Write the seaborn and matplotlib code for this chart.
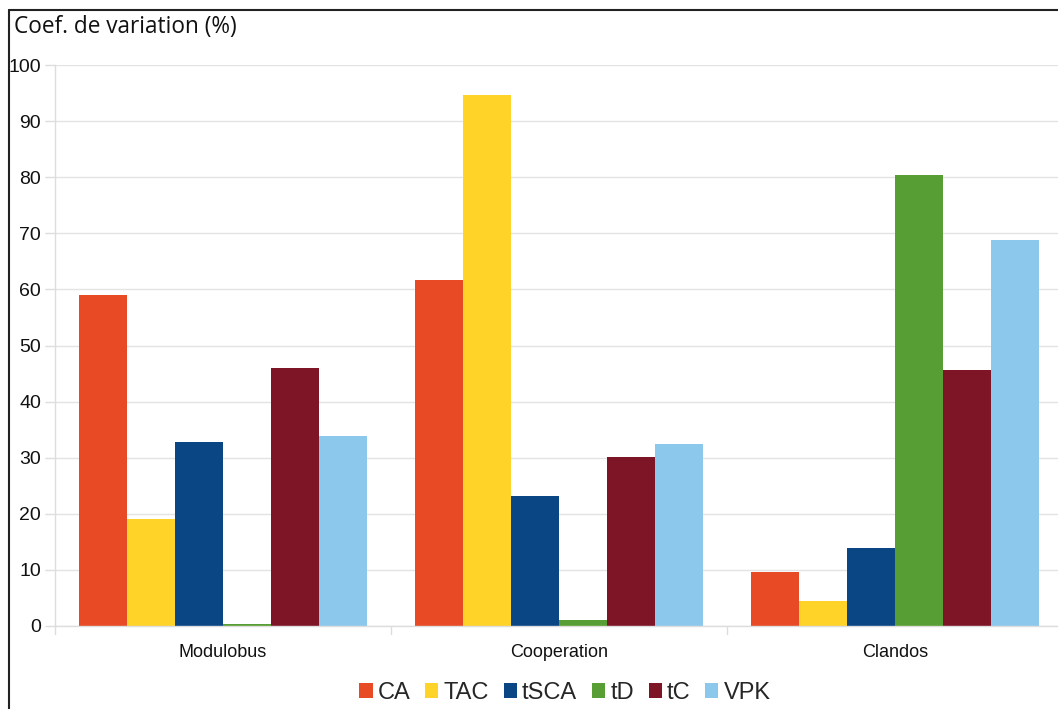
import matplotlib
matplotlib.use("Agg")
import matplotlib.pyplot as plt
import seaborn as sns
import pandas as pd
from matplotlib.lines import Line2D
from matplotlib.patches import Patch

groups = ["Modulobus", "Cooperation", "Clandos"]
metrics = ["CA", "TAC", "tSCA", "tD", "tC", "VPK"]
values = {
    "CA":   [59.0, 61.7, 9.6],
    "TAC":  [19.1, 94.7, 4.4],
    "tSCA": [32.8, 23.2, 13.9],
    "tD":   [0.3, 1.0, 80.4],
    "tC":   [46.0, 30.1, 45.6],
    "VPK":  [33.9, 32.4, 68.8],
}
colors = ["#E84A25", "#FFD327", "#0A4684", "#579E35", "#7E1526", "#8CC7EC"]
y_ticks = [0, 10, 20, 30, 40, 50, 60, 70, 80, 90, 100]

rows = []
for m in metrics:
    for g, v in zip(groups, values[m]):
        rows.append({"group": g, "metric": m, "value": v})
df = pd.DataFrame(rows)

sns.set_theme(style="white")
plt.rcParams["font.family"] = ["Liberation Sans", "DejaVu Sans"]

W, H = 1058, 709
fig = plt.figure(figsize=(W / 100, H / 100), dpi=100)
ax = fig.add_axes([55 / W, (H - 626) / H, 1008 / W, (626 - 65) / H])

sns.barplot(data=df, x="group", y="value", hue="metric", order=groups,
            hue_order=metrics, palette=colors, saturation=1, width=0.857,
            linewidth=0, ax=ax, legend=False, errorbar=None)

ax.set_xlim(-0.5, 2.5)
ax.set_ylim(0, 100)
ax.set_yticks(y_ticks)
ax.set_yticklabels([str(t) for t in y_ticks], fontsize=14, color="#111111")
ax.yaxis.grid(True, color="#e3e3e3", linewidth=1)
ax.set_axisbelow(True)
ax.set_xlabel("")
ax.set_ylabel("")
ax.tick_params(axis="y", length=7, color="#dddddd", width=1, pad=3, left=True)
ax.set_xticks([0, 1, 2])
ax.set_xticklabels(groups, fontsize=13, color="#111111")
ax.tick_params(axis="x", length=0, pad=13)
for xb in [-0.5, 0.5, 1.5]:
    ax.plot([xb, xb], [0, -0.014], transform=ax.get_xaxis_transform(),
            color="#dddddd", lw=1, clip_on=False)
for s in ["top", "right"]:
    ax.spines[s].set_visible(False)
for s in ["left", "bottom"]:
    ax.spines[s].set_color("#dddddd")
    ax.spines[s].set_linewidth(1)

fig.text(14 / W, 1 - 27 / H, "Coef. de variation (%)", fontsize=16.3,
         family=["Open Sans", "DejaVu Sans"], va="center", ha="left",
         color="#111111")

fig.add_artist(Line2D([8.5 / W, 8.5 / W], [0, 1 - 10 / H], color="#222222",
                      lw=1.5, transform=fig.transFigure))
fig.add_artist(Line2D([8.5 / W, 1], [1 - 10 / H, 1 - 10 / H], color="#222222",
                      lw=1.5, transform=fig.transFigure))

handles = [Patch(facecolor=c, edgecolor="none") for c in colors]
fig.legend(handles, metrics, loc="center", bbox_to_anchor=(565 / W, 1 - 693 / H),
           ncol=6, frameon=False, fontsize=17, handlelength=0.56,
           handleheight=0.56, handletextpad=0.22, columnspacing=0.62,
           borderaxespad=0, borderpad=0)

fig.savefig("out.png", dpi=100)
